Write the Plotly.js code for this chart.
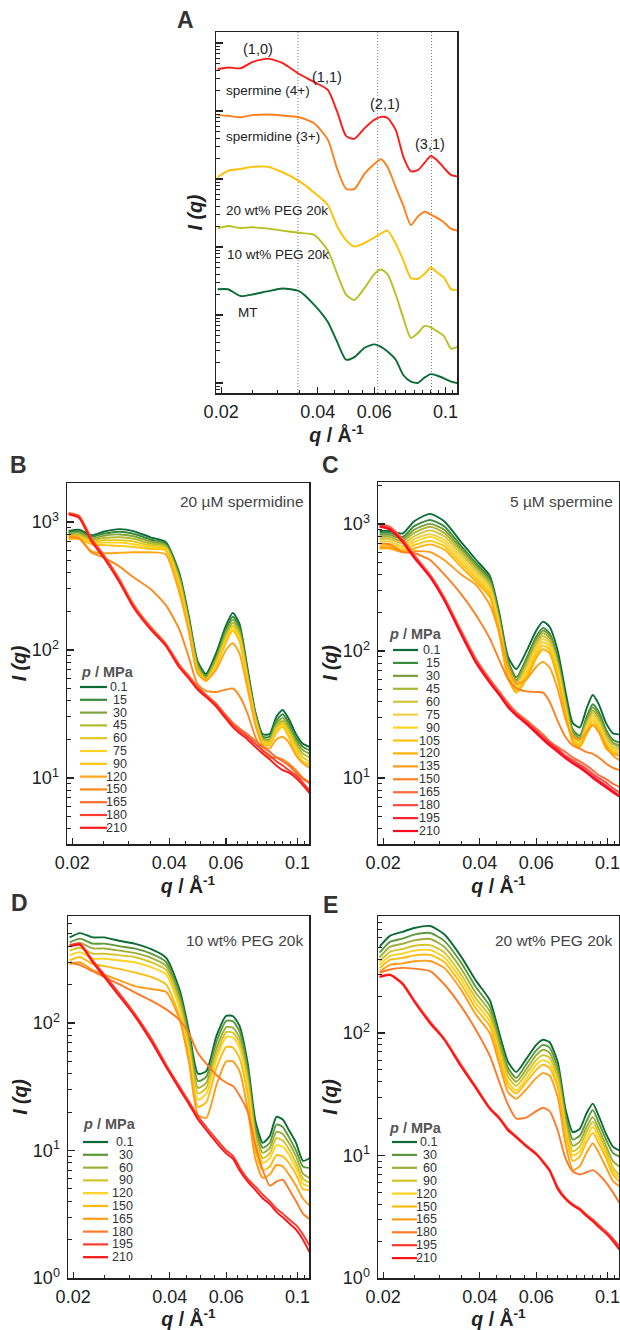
<!DOCTYPE html>
<html><head><meta charset="utf-8">
<script src="https://cdn.plot.ly/plotly-3.0.1.min.js"></script>
<style>html,body{margin:0;padding:0;background:#fff;}#chart{width:620px;height:1330px;}</style>
</head><body><div id="chart"></div>
<script>
// ---------------- DATA ----------------
const q = [0.0195, 0.021, 0.023, 0.025, 0.028, 0.031, 0.035, 0.039, 0.043, 0.046, 0.049, 0.052, 0.056, 0.060, 0.063, 0.066, 0.070, 0.074, 0.078, 0.082, 0.086, 0.090, 0.094, 0.099, 0.104, 0.109];

// Panel A (offset curves)
const A_names = ['spermine (4+)', 'spermidine (3+)', '20 wt% PEG 20k', '10 wt% PEG 20k', 'MT'];
const A_spermine = [4.15e5, 4.37e5, 4.25e5, 5.25e5, 5.9e5, 5.1e5, 3.5e5, 2.67e5, 2.04e5, 9.7e4, 4.3e4, 3.9e4, 5.6e4, 7.4e4, 8.2e4, 7.9e4, 5.25e4, 2.1e4, 1.3e4, 1.35e4, 1.72e4, 2.18e4, 1.9e4, 1.45e4, 1.15e4, 1.09e4];
const A_spermidine = [8.7e4, 8.5e4, 8.1e4, 8.7e4, 8.9e4, 8.6e4, 8.1e4, 6.6e4, 3.8e4, 1.4e4, 7.2e3, 7.1e3, 1.2e4, 1.66e4, 1.95e4, 1.5e4, 7.6e3, 4e3, 2.1e3, 2.8e3, 3.3e3, 3e3, 2.7e3, 2.3e3, 1.86e3, 1.74e3];
const A_peg20 = [1.07e4, 1.32e4, 1.41e4, 1.51e4, 1.51e4, 1.26e4, 9.3e3, 6.3e3, 4.15e3, 2e3, 1.26e3, 1.02e3, 1.15e3, 1.38e3, 1.58e3, 1.74e3, 1.12e3, 630, 350, 340, 400, 500, 427, 355, 240, 234];
const A_peg10 = [1.88e3, 2.04e3, 1.9e3, 1.95e3, 1.86e3, 1.74e3, 1.62e3, 1.51e3, 890, 400, 200, 166, 250, 400, 468, 400, 200, 89, 46, 54, 69, 66, 58, 49, 32, 34];
const A_mt = [239, 239, 190, 200, 224, 245, 224, 141, 79, 40, 22, 24, 33, 37, 34, 29, 22, 13, 10.5, 10, 12, 13.5, 12.9, 11.7, 10.5, 10];
const A_colors = ['#ff1a1a', '#ff7f1a', '#ffc000', '#b8bf22', '#0b6b35'];
const A_peakQ = [0.0347, 0.0615, 0.0905];
const A_peakLabels = ['(1,0)', '(1,1)', '(2,1)', '(3,1)'];

// Panel B: 20 uM spermidine
const B_title = '20 µM spermidine';
const B_p = ['0.1', '15', '30', '45', '60', '75', '90', '120', '150', '165', '180', '210'];
const B_0_1 = [850, 870, 790, 840, 880, 850, 760, 700, 400, 185, 82, 65, 95, 155, 195, 162, 72, 33, 22, 22, 30, 34, 29, 22, 18.5, 17.5];
const B_15 = [830, 850, 770, 810, 840, 810, 730, 680, 385, 178, 79, 63, 90, 145, 182, 152, 68, 32, 21, 21, 28, 31.5, 27, 20.5, 17.5, 16.5];
const B_30 = [810, 825, 745, 780, 800, 775, 705, 660, 370, 170, 76, 61, 86, 138, 172, 144, 65, 31, 20.5, 20, 26.5, 29.5, 25.5, 19.5, 16.5, 15.5];
const B_45 = [790, 800, 725, 750, 760, 740, 680, 645, 355, 163, 73, 60, 83, 131, 163, 137, 62, 30, 20, 19.5, 25.5, 28, 24, 18.5, 15.5, 14.5];
const B_60 = [770, 780, 705, 720, 720, 705, 655, 630, 340, 156, 70, 59, 80, 125, 155, 130, 60, 29, 19.5, 19, 24.5, 27, 23, 17.5, 14.5, 13.5];
const B_75 = [750, 760, 690, 690, 690, 670, 635, 615, 325, 150, 68, 58, 77, 119, 148, 124, 58, 28, 19, 18.5, 23.5, 26, 22, 16.5, 13.5, 13];
const B_90 = [730, 740, 670, 660, 650, 640, 615, 600, 310, 144, 66, 57, 75, 114, 141, 118, 56, 27, 18.5, 18, 22.5, 25, 21, 15.5, 13, 12.5];
const B_120 = [780, 760, 590, 570, 575, 580, 580, 560, 280, 140, 66, 58, 70, 100, 113, 95, 50, 26, 18, 17, 20, 21, 19, 15, 13, 12];
const B_150 = [760, 740, 575, 530, 450, 370, 300, 225, 145, 88, 54, 48, 47, 49, 50, 44, 32, 21, 16, 14.5, 14.5, 14, 13, 11.5, 10, 9.3];
const B_165 = [1180, 1120, 740, 560, 360, 228, 152, 113, 77, 63, 52, 45, 38, 31, 27, 24.5, 22, 19.5, 17.5, 16, 14.5, 13.5, 12.5, 11, 9.8, 9.1];
const B_180 = [1160, 1100, 720, 545, 350, 220, 148, 110, 75, 61, 50, 44, 37, 30, 26, 23.5, 21, 18.5, 16.5, 15, 13.5, 12.5, 11.5, 10.5, 9.2, 8];
const B_210 = [1150, 1080, 700, 530, 340, 215, 145, 108, 73, 60, 49, 43, 36, 29, 25, 22.5, 20, 17.5, 15.5, 14, 12.5, 11.5, 11, 10, 8.8, 7.6];
const B_colors = ['#0b6b35', '#3a8a3a', '#7ea63c', '#b4bb2c', '#e2c81e', '#ffd21f', '#ffc20e', '#ffa51a', '#ff8a1c', '#ff6a2c', '#ff3a2e', '#ff1a1a'];

// Panel C: 5 uM spermine
const C_title = '5 µM spermine';
const C_p = ['0.1', '15', '30', '45', '60', '75', '90', '105', '120', '135', '150', '165', '180', '195', '210'];
const C_0_1 = [880, 880, 840, 1050, 1200, 1050, 720, 520, 390, 200, 90, 72, 100, 145, 170, 155, 100, 48, 27, 25, 35, 45, 38, 27, 22.5, 22];
const C_15 = [850, 850, 790, 960, 1075, 960, 670, 490, 370, 190, 84, 62, 88, 130, 152, 138, 88, 43, 24, 21.5, 30, 38, 33, 24, 20, 19];
const C_30 = [820, 820, 760, 900, 1000, 900, 640, 470, 355, 180, 80, 59, 84, 124, 145, 132, 84, 41, 23, 20.5, 28.5, 36, 31, 23, 19, 18];
const C_45 = [790, 790, 730, 850, 950, 850, 610, 450, 340, 172, 76, 57, 80, 118, 138, 126, 80, 39, 22, 20, 27, 34, 29.5, 22, 18.5, 17.5];
const C_60 = [760, 760, 700, 800, 890, 800, 580, 430, 325, 165, 73, 55, 76, 112, 131, 120, 76, 37, 21, 19.5, 26, 32.5, 28, 21, 17.5, 17];
const C_75 = [730, 730, 670, 760, 830, 750, 550, 410, 310, 158, 70, 53, 72, 106, 124, 114, 72, 35, 20.5, 19, 25, 31, 27, 20, 17, 16.5];
const C_90 = [700, 700, 645, 720, 790, 710, 520, 390, 295, 150, 67, 51, 68, 100, 117, 108, 68, 34, 20, 18.5, 24, 29.5, 25.5, 19, 16.5, 16];
const C_105 = [670, 670, 620, 680, 735, 670, 490, 370, 280, 143, 64, 49, 64, 94, 110, 102, 64, 33, 19.5, 18, 23, 28, 24.5, 18, 16, 15.5];
const C_120 = [640, 640, 600, 640, 690, 630, 460, 350, 265, 136, 61, 47, 60, 88, 103, 96, 60, 32, 19, 17.5, 22, 26.5, 23, 17, 15.5, 15];
const C_135 = [650, 650, 600, 610, 600, 520, 400, 330, 230, 140, 75, 55, 60, 75, 82, 74, 50, 29, 21, 20, 23, 26, 23, 18, 15, 13.8];
const C_150 = [700, 690, 600, 590, 520, 400, 280, 190, 125, 85, 60, 51, 48, 47.5, 47, 40, 28, 21, 18, 17, 16, 15.5, 14.5, 13, 12, 11.5];
const C_165 = [1000, 950, 760, 570, 400, 265, 145, 86, 60, 48, 39, 33, 28.5, 24.5, 22, 19.5, 17.5, 16, 14.5, 13.5, 12.5, 11.5, 10.5, 9.8, 9, 8.5];
const C_180 = [980, 930, 740, 555, 390, 258, 140, 83, 58, 46.5, 37.5, 32, 27.5, 23.5, 21, 19, 17, 15, 13.8, 12.8, 11.8, 10.8, 10, 9.2, 8.3, 7.7];
const C_195 = [960, 910, 730, 545, 385, 254, 137, 81, 57, 45.5, 36.5, 31.5, 27, 23, 20.5, 18.5, 16.5, 14.6, 13.3, 12.3, 11.3, 10.3, 9.5, 8.7, 7.9, 7.3];
const C_210 = [950, 900, 720, 540, 380, 250, 135, 80, 56, 45, 36, 31, 26.5, 22.5, 20, 18, 16, 14.3, 13, 12, 11, 10, 9.2, 8.4, 7.7, 7.1];
const C_colors = ['#0b6b35', '#3d8b3d', '#7a9e3a', '#a9b634', '#d6c43a', '#f0cf4a', '#ffd420', '#ffc20c', '#ffb000', '#ff9c18', '#ff8020', '#ff6a3a', '#ff4a44', '#ff2030', '#ff0a20'];

// Panel D: 10 wt% PEG 20k
const D_title = '10 wt% PEG 20k';
const DE_p = ['0.1', '30', '60', '90', '120', '150', '165', '180', '195', '210'];
const D_0_1 = [470, 508, 470, 470, 440, 420, 380, 325, 180, 85, 40, 42, 80, 114, 113, 95, 48, 17, 11.5, 13, 18.4, 17.5, 14.5, 11.5, 8.3, 8.7];
const D_30 = [430, 460, 420, 420, 400, 385, 350, 300, 165, 78, 35, 38, 72, 104, 103, 86, 43, 15, 10.5, 11.5, 16, 15.3, 12.8, 10, 7.5, 7.3];
const D_60 = [400, 425, 385, 385, 370, 355, 325, 280, 150, 70, 31, 34, 64, 93, 92, 77, 38, 13.5, 9.6, 10.5, 14, 13.5, 11.5, 9, 6.6, 6.1];
const D_90 = [370, 390, 350, 350, 340, 330, 300, 260, 140, 64, 28, 31, 58, 85, 84, 70, 35, 12.5, 8.7, 9.5, 12.5, 12, 10.3, 8, 6, 5.6];
const D_120 = [340, 360, 320, 320, 310, 300, 275, 240, 128, 58, 25, 28, 53, 78, 77, 64, 32, 11.5, 8, 8.7, 11, 10.7, 9.3, 7.3, 5.5, 5.2];
const D_150 = [310, 330, 290, 280, 265, 250, 230, 200, 110, 50, 22, 24, 45, 65, 64, 53, 27, 10, 7, 7.5, 9.2, 9, 8, 6.5, 5, 4.9];
const D_165 = [290, 300, 260, 240, 215, 195, 185, 175, 105, 48, 19, 18, 33, 50, 50, 42, 21, 8.5, 6.1, 6.5, 7.7, 7.5, 6.5, 5.3, 4.2, 3.7];
const D_180 = [300, 285, 255, 230, 200, 175, 150, 128, 105, 82, 58, 48, 39, 34, 32, 27, 20, 11, 7, 5.3, 5.7, 5.9, 5, 4, 3.2, 2.9];
const D_195 = [410, 420, 310, 240, 168, 120, 76, 47, 31.5, 24, 18.5, 15.3, 12.2, 10, 9.1, 7.4, 6, 5.2, 4.5, 4.0, 3.5, 3.2, 2.9, 2.6, 2.2, 1.8];
const D_210 = [400, 410, 300, 230, 160, 115, 72, 45, 30, 23, 17.5, 14.5, 11.5, 9.5, 8.6, 7, 5.7, 4.9, 4.2, 3.8, 3.3, 3.0, 2.7, 2.4, 2.0, 1.6];

// Panel E: 20 wt% PEG 20k
const E_title = '20 wt% PEG 20k';
const E_0_1 = [506, 620, 670, 720, 747, 640, 420, 265, 185, 100, 58, 48, 62, 80, 88, 84, 58, 24, 15.5, 16.5, 22, 26.5, 21, 15, 11.8, 11];
const E_30 = [453, 555, 590, 635, 655, 565, 375, 235, 165, 90, 52, 43, 56, 72, 80, 76, 52, 21.5, 13.5, 14.5, 19, 23.5, 18.5, 13.5, 10.5, 9.8];
const E_60 = [415, 505, 535, 570, 585, 505, 335, 210, 150, 82, 48, 40, 51, 66, 73, 69, 47, 19.5, 12, 13, 17, 20.6, 16.5, 12, 9, 8.1];
const E_90 = [382, 460, 485, 515, 522, 455, 300, 190, 137, 75, 44, 37, 47, 60, 66, 63, 43, 18, 10.8, 11.8, 15.5, 18.8, 15, 11, 8, 6.9];
const E_120 = [359, 425, 445, 470, 476, 415, 275, 173, 125, 69, 40, 34, 43, 55, 60, 57, 39, 16.5, 10, 10.8, 14, 17.1, 13.8, 10.2, 7.5, 6.5];
const E_150 = [337, 395, 410, 430, 434, 380, 250, 157, 114, 63, 37, 32, 40, 50, 55, 52, 36, 15, 9, 9.8, 12.8, 15.3, 12.5, 9.5, 7, 6.1];
const E_165 = [316, 360, 370, 385, 387, 340, 225, 140, 100, 56, 33, 29, 35, 43, 47, 45, 30, 12.5, 7.6, 8.2, 10.5, 12.6, 10.5, 8, 6.2, 5.6];
const E_180 = [310, 330, 340, 335, 320, 250, 165, 105, 65, 40, 26, 20, 20.5, 23, 24.5, 23, 16, 9.5, 7.4, 7, 7.3, 7.6, 7, 6, 5, 4.1];
const E_195 = [290, 300, 255, 185, 124, 90, 55, 36, 24.5, 20.5, 16.5, 14.3, 12, 10.4, 9, 7.7, 5.5, 4.5, 4, 3.7, 3.3, 3, 2.7, 2.4, 2.1, 1.8];
const E_210 = [286, 297, 250, 180, 120, 88, 53, 35, 24, 20, 16, 14, 11.8, 10.2, 8.8, 7.5, 5.3, 4.4, 3.9, 3.6, 3.2, 2.9, 2.6, 2.3, 2.0, 1.7];
const DE_colors = ['#0b6b35', '#5c993c', '#9eae3a', '#d4c428', '#ffd21f', '#ffbb10', '#ff9c18', '#ff7a26', '#ff3a2e', '#ff1414'];

const qTicks = [0.02, 0.04, 0.06, 0.1];
const qTickText = ['0.02', '0.04', '0.06', '0.1'];
const qMinor = [0.025, 0.03, 0.035, 0.045, 0.05, 0.055, 0.065, 0.07, 0.075, 0.08, 0.085, 0.09, 0.095, 0.105];

// ---------------- LAYOUT HELPERS ----------------
const F = 'Liberation Sans, Arial, Helvetica, sans-serif';
const W = 620, H = 1330;
const px = x => x / W;
const py = y => 1 - y / H;
const INK = '#222';

function decadeMinor(lo, hi) {
  const out = [];
  for (let e = lo; e <= hi; e++) for (let m = 2; m <= 9; m++) out.push(m * Math.pow(10, e));
  return out;
}

function xAxis(box, anchor) {
  return {
    type: 'log', domain: [px(box[0]), px(box[1])], anchor: anchor,
    range: [-1.715, -0.964], tickmode: 'array', tickvals: qTicks, ticktext: qTickText,
    ticks: 'inside', ticklen: 6, tickwidth: 1.2, tickcolor: INK,
    showline: true, mirror: true, linecolor: INK, linewidth: 1.5,
    showgrid: false, zeroline: false, ticklabelstandoff: 2, ticklabeloverflow: 'allow',
    tickfont: {family: F, size: 18, color: INK},
    minor: {tickmode: 'array', tickvals: qMinor, ticks: 'inside', ticklen: 3.5, tickwidth: 1, tickcolor: INK, showgrid: false},
    title: {text: '<i>q</i> / Å<sup>-1</sup>', font: {family: F, size: 19.5, color: INK, weight: 'bold'}, standoff: 0}
  };
}
function yAxis(box, anchor, range, labelled) {
  const dec = [1, 10, 100, 1000];
  return {
    type: 'log', domain: [py(box[3]), py(box[2])], anchor: anchor, range: range,
    tickmode: 'array', tickvals: labelled ? dec : [10, 100, 1e3, 1e4, 1e5, 1e6],
    ticktext: labelled ? ['10<sup>0</sup>', '10<sup>1</sup>', '10<sup>2</sup>', '10<sup>3</sup>'] : undefined,
    showticklabels: labelled, ticklabeloverflow: 'allow',
    ticks: 'inside', ticklen: 7, tickwidth: 1.2, tickcolor: INK,
    showline: true, mirror: true, linecolor: INK, linewidth: 1.5,
    showgrid: false, zeroline: false, ticklabelstandoff: 3,
    tickfont: {family: F, size: 18, color: INK},
    minor: {tickmode: 'array', tickvals: labelled ? decadeMinor(0, 3) : decadeMinor(0, 6), ticks: 'inside', ticklen: 4, tickwidth: 1, tickcolor: INK, showgrid: false},
    title: {text: 'I (q)', font: {family: F, size: 19.5, color: INK, weight: 'bold', style: 'italic'}, standoff: labelled ? 0 : 6}
  };
}

const boxes = {
  A: [216, 457, 32, 393],
  B: [67, 309, 483, 844],
  C: [378, 619, 482, 844],
  D: [68, 309, 916, 1278],
  E: [378, 619, 916, 1278]
};

const data = [];
function addSeries(series, colors, names, ax) {
  series.forEach((s, i) => data.push({
    type: 'scatter', mode: 'lines', x: q, y: s, name: names[i],
    xaxis: 'x' + ax, yaxis: 'y' + ax, showlegend: false, hoverinfo: 'skip',
    line: {color: colors[i], width: 1.9, shape: 'spline', smoothing: 0.6}
  }));
}
addSeries([A_spermine, A_spermidine, A_peg20, A_peg10, A_mt], A_colors, A_names, '');
addSeries([B_0_1, B_15, B_30, B_45, B_60, B_75, B_90, B_120, B_150, B_165, B_180, B_210], B_colors, B_p, '2');
addSeries([C_0_1, C_15, C_30, C_45, C_60, C_75, C_90, C_105, C_120, C_135, C_150, C_165, C_180, C_195, C_210], C_colors, C_p, '3');
addSeries([D_0_1, D_30, D_60, D_90, D_120, D_150, D_165, D_180, D_195, D_210], DE_colors, DE_p, '4');
addSeries([E_0_1, E_30, E_60, E_90, E_120, E_150, E_165, E_180, E_195, E_210], DE_colors, DE_p, '5');

const shapes = [];
const annotations = [];
function txt(text, x, y, font, opts) {
  annotations.push(Object.assign({
    text: text, x: px(x), y: py(y), xref: 'paper', yref: 'paper', showarrow: false,
    xanchor: 'center', yanchor: 'middle', borderpad: 0,
    font: Object.assign({family: F, color: '#333'}, font)
  }, opts || {}));
}

// dotted peak lines in A
A_peakQ.forEach(v => shapes.push({type: 'line', xref: 'x', yref: 'y domain', x0: v, x1: v, y0: 0, y1: 1, line: {color: '#777', width: 1, dash: '1px,2px'}, layer: 'below'}));

// panel letters
const letterFont = {size: 23, weight: 'bold', color: '#333'};
txt('A', 185, 20, letterFont);
txt('B', 18, 465, letterFont);
txt('C', 330, 465, letterFont);
txt('D', 19, 903, letterFont);
txt('E', 330, 905, letterFont);

// panel A labels
const peakFont = {size: 14.5, color: '#222'};
txt(A_peakLabels[0], 258, 49, peakFont);
txt(A_peakLabels[1], 327, 77, peakFont);
txt(A_peakLabels[2], 385, 104, peakFont);
txt(A_peakLabels[3], 430, 144, peakFont);
const A_labelPos = [[225, 90], [225, 137], [225, 211], [226, 255], [237, 312]];
A_names.forEach((n, i) => txt(n, A_labelPos[i][0], A_labelPos[i][1], {size: 13.5, color: '#222'}, {xanchor: 'left'}));

// condition labels
const condFont = {size: 15.5, color: '#444'};
txt(B_title, 305, 502, condFont, {xanchor: 'right'});
txt(C_title, 614, 502, condFont, {xanchor: 'right'});
txt(D_title, 304, 940, condFont, {xanchor: 'right'});
txt(E_title, 613, 940, condFont, {xanchor: 'right'});

// legends
function legendBlock(labels, colors, titleX, titleY, y0, step, lx0, lx1, tRight) {
  txt('<i>p</i> / MPa', titleX, titleY, {size: 14.5, color: '#555', weight: 'bold'}, {xanchor: 'left'});
  labels.forEach((l, i) => {
    const y = y0 + i * step;
    shapes.push({type: 'line', xref: 'paper', yref: 'paper', x0: px(lx0), x1: px(lx1), y0: py(y), y1: py(y), line: {color: colors[i], width: 2.2}});
    txt(l, tRight, y, {size: 12.5, color: '#333'}, {xanchor: 'right'});
  });
}
legendBlock(B_p, B_colors, 80, 672, 687, 12.8, 80, 107, 128);
legendBlock(C_p, C_colors, 388, 634, 650, 12.93, 393, 418, 441);
legendBlock(DE_p, DE_colors, 82, 1124, 1142, 12.8, 83, 108, 134);
legendBlock(DE_p, DE_colors, 388, 1128, 1142, 12.9, 392, 417, 438);

const layout = {
  width: W, height: H, margin: {l: 0, r: 0, t: 0, b: 0},
  paper_bgcolor: '#fff', plot_bgcolor: '#fff', showlegend: false,
  font: {family: F, color: INK},
  xaxis: xAxis(boxes.A, 'y'), yaxis: yAxis(boxes.A, 'x', [0.853, 6.162], false),
  xaxis2: xAxis(boxes.B, 'y2'), yaxis2: yAxis(boxes.B, 'x2', [0.484, 3.305], true),
  xaxis3: xAxis(boxes.C, 'y3'), yaxis3: yAxis(boxes.C, 'x3', [0.48, 3.33], true),
  xaxis4: xAxis(boxes.D, 'y4'), yaxis4: yAxis(boxes.D, 'x4', [0, 2.84], true),
  xaxis5: xAxis(boxes.E, 'y5'), yaxis5: yAxis(boxes.E, 'x5', [0, 2.955], true),
  shapes: shapes, annotations: annotations
};
Plotly.newPlot('chart', data, layout, {displayModeBar: false, staticPlot: true});
</script>
</body></html>
